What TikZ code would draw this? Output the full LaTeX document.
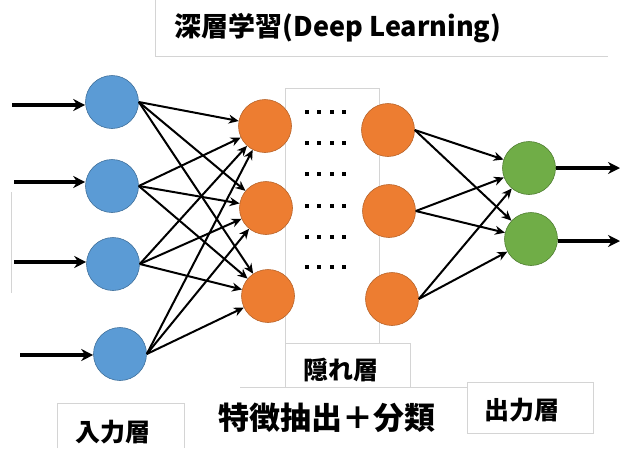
\documentclass[tikz,border=0pt]{standalone}
\usepackage{fontspec}
\newfontfamily\jp{Noto Sans CJK JP}
\usepackage{tikz}
\usetikzlibrary{arrows.meta}
\definecolor{inblue}{HTML}{5B9BD5}
\definecolor{inblueline}{HTML}{41719C}
\definecolor{hidorange}{HTML}{ED7D31}
\definecolor{hidorangeline}{HTML}{B8642A}
\definecolor{outgreen}{HTML}{70AD47}
\definecolor{outgreenline}{HTML}{507E32}
\definecolor{boxgray}{HTML}{D4D4D4}
\pgfmathsetmacro{\rad}{26.5}

\tikzset{
	neuron/.style={circle, minimum size=2*\rad pt, inner sep=0pt, line width=.6pt},
	link/.style={line width=2pt, arrows={-Stealth[length=10pt, width=9pt]}},
	feed/.style={line width=4.2pt, arrows={-Stealth[length=12pt, width=12pt]}},
	frame/.style={boxgray, line width=.8pt},
	layertext/.style={font=\jp\bfseries\fontsize{25}{28}\selectfont, inner sep=0pt}
}

\begin{document}
\begin{tikzpicture}[x=1pt, y=-1pt]
		\useasboundingbox (0,0) rectangle (621,448);

		% text frames
		\draw[frame] (155,0) -- (155,56) -- (608,56);
		\draw[frame, fill=white] (285,88) rectangle (379,343);
		\draw[frame] (285,343) rectangle (410,387);
		\draw[frame] (240,387) -- (467,387);
		\draw[frame] (467,382) rectangle (593,433);
		\draw[frame] (57,448) -- (57,403) -- (184,403) -- (184,448);
		\draw[frame] (11,192) -- (11,293);

		% dots between the hidden layers
		\foreach \row in {112,143,174,206,237,267}
			\foreach \col in {307,319,332,344}
				\fill (\col-2,\row-2) rectangle ++(4,4);

		% input layer
		\node[neuron, fill=inblue, draw=inblueline] (I1) at (112,102) {};
		\node[neuron, fill=inblue, draw=inblueline] (I2) at (112,186) {};
		\node[neuron, fill=inblue, draw=inblueline] (I3) at (113,264) {};
		\node[neuron, fill=inblue, draw=inblueline] (I4) at (120,354) {};

		% hidden layers
		\node[neuron, fill=hidorange, draw=hidorangeline] (H1) at (265,126) {};
		\node[neuron, fill=hidorange, draw=hidorangeline] (H2) at (266,208) {};
		\node[neuron, fill=hidorange, draw=hidorangeline] (H3) at (268,296) {};
		\node[neuron, fill=hidorange, draw=hidorangeline] (H4) at (388,130) {};
		\node[neuron, fill=hidorange, draw=hidorangeline] (H5) at (389,211) {};
		\node[neuron, fill=hidorange, draw=hidorangeline] (H6) at (392,299) {};

		% output layer
		\node[neuron, fill=outgreen, draw=outgreenline] (O1) at (529,168) {};
		\node[neuron, fill=outgreen, draw=outgreenline] (O2) at (531,239) {};

		% inputs and outputs
		\coordinate (in1) at (12,105);
		\coordinate (in2) at (14,182);
		\coordinate (in3) at (14,262);
		\coordinate (in4) at (20,355);
		\foreach \i in {1,...,4}
			\draw[feed] (in\i) -- (in\i -| I\i.west);
		\coordinate (out1) at (620,168);
		\coordinate (out2) at (620,241);
		\draw[feed] (O1.east) -- (out1);
		\draw[feed] (O2.east |- out2) -- (out2);

		% weights
		\foreach \i in {1,...,4}
			\foreach \h in {1,2,3}
				\draw[link] (I\i.east) -- (H\h);
		\foreach \h in {4,5,6}
			\foreach \o in {1,2}
				\draw[link] (H\h.east) -- (O\o);

		% titles
		\node[font=\jp\bfseries\fontsize{27}{31}\selectfont, inner sep=0pt] (title) at (338,28) {深層学習(Deep Learning)};
		\node[layertext] (hidden) at (341,370) {隠れ層};
		\node[layertext] (input) at (113,432) {入力層};
		\node[layertext] (output) at (522,410) {出力層};
		\node[font=\jp\bfseries\fontsize{31}{34}\selectfont, inner sep=0pt] (task) at (327,418) {特徴抽出＋分類};

	\end{tikzpicture}
\end{document}
